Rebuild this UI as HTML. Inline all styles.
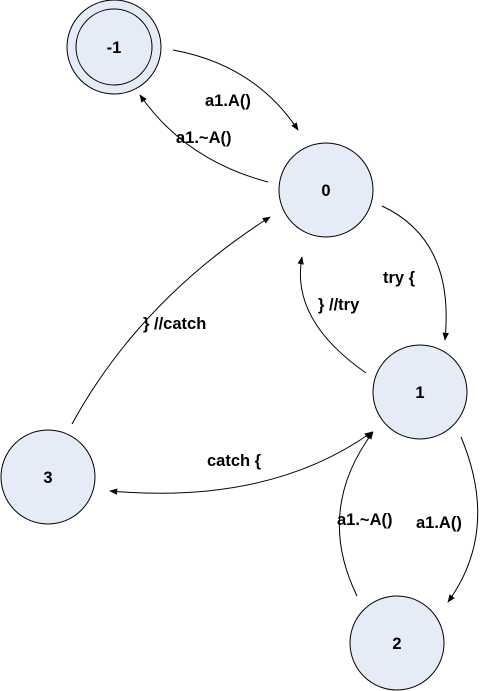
<!DOCTYPE html>
<html><head><style>body{margin:0;background:#fff}svg{display:block}text{font-family:"Liberation Sans",Arial,sans-serif;font-weight:bold;font-size:16.5px;fill:#000}</style></head><body>
<svg width="482" height="691" viewBox="0 0 482 691">
<defs><marker id="a" viewBox="0 0 10 10" refX="9" refY="5" markerWidth="8" markerHeight="8" orient="auto"><path d="M0,1 L10,5 L0,9 Z" fill="#000"/></marker>
<marker id="s" viewBox="0 0 10 10" refX="1" refY="5" markerWidth="8" markerHeight="8" orient="auto"><path d="M10,1 L0,5 L10,9 Z" fill="#000"/></marker></defs>
<g fill="#e6ecf7" stroke="#000" stroke-width="1">
<circle cx="114" cy="47" r="47"/><circle cx="114" cy="47" r="38"/>
<circle cx="326" cy="190" r="47"/>
<circle cx="420" cy="392" r="47"/>
<circle cx="48" cy="477" r="47"/>
<circle cx="397" cy="643" r="47"/>
</g>
<g fill="none" stroke="#000" stroke-width="1">
<path d="M173,50 Q255,65 298,130" marker-end="url(#a)"/>
<path d="M268,182 Q185,160 140,95" marker-end="url(#a)"/>
<path d="M72,424 Q140,300 270,217" marker-end="url(#a)"/>
<path d="M382,206 Q455,240 445,340" marker-end="url(#a)"/>
<path d="M366,373 Q290,320 302,257" marker-end="url(#a)"/>
<path d="M110,491 Q270,505 372,432" marker-start="url(#s)" marker-end="url(#a)"/>
<path d="M461,437 Q500,530 448,602" marker-end="url(#a)"/>
<path d="M357,596 Q315,510 373,432" marker-end="url(#a)"/>
</g>
<text x="114" y="53" text-anchor="middle">-1</text>
<text x="326" y="196" text-anchor="middle">0</text>
<text x="420" y="398" text-anchor="middle">1</text>
<text x="48" y="483" text-anchor="middle">3</text>
<text x="397" y="649" text-anchor="middle">2</text>
<text x="205" y="106">a1.A()</text>
<text x="176" y="143">a1.~A()</text>
<text x="383" y="283">try {</text>
<text x="318" y="310">} //try</text>
<text x="143" y="329">} //catch</text>
<text x="207" y="466">catch {</text>
<text x="337" y="525">a1.~A()</text>
<text x="416" y="528">a1.A()</text>
</svg>
</body></html>
